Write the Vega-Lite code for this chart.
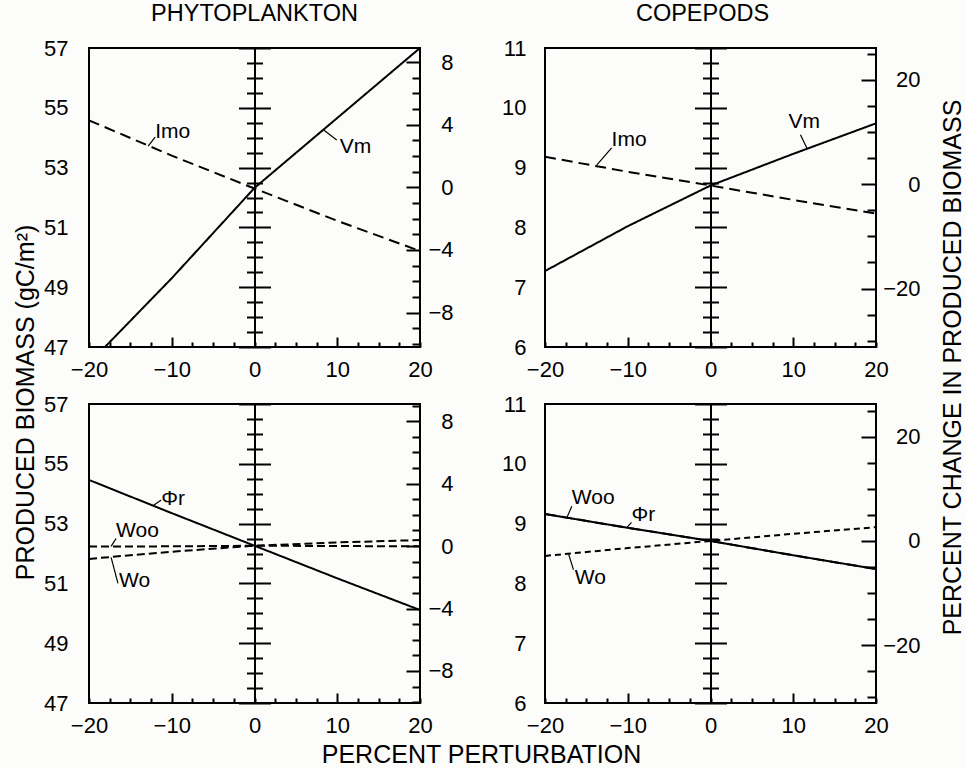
{
 "$schema": "https://vega.github.io/schema/vega-lite/v6.json",
 "background": "#fcfcfa",
 "padding": {"left": 12, "top": 0, "right": 0, "bottom": 0},
 "config": {
  "font": "Liberation Sans",
  "view": {"stroke": "black", "strokeWidth": 2},
  "axis": {"grid": false, "labelFontSize": 22, "labelColor": "black", "tickColor": "black", "domainColor": "black", "titleColor": "black", "labelFlush": false, "labelOverlap": false, "titleFontWeight": "normal", "titleFontSize": 25},
  "title": {"fontSize": 23.5, "fontWeight": "normal", "color": "black", "offset": 12, "frame": "group"}
 },
 "datasets": {
  "lines": [
   {"panel": "PT", "s": "Vm", "dash": "solid", "x": -20, "y": 46.45},
   {"panel": "PT", "s": "Vm", "dash": "solid", "x": -10, "y": 49.3},
   {"panel": "PT", "s": "Vm", "dash": "solid", "x": 0, "y": 52.32},
   {"panel": "PT", "s": "Vm", "dash": "solid", "x": 10, "y": 54.66},
   {"panel": "PT", "s": "Vm", "dash": "solid", "x": 20, "y": 57.0},
   {"panel": "PT", "s": "Imo", "dash": "long", "x": -20, "y": 54.58},
   {"panel": "PT", "s": "Imo", "dash": "long", "x": -10, "y": 53.4},
   {"panel": "PT", "s": "Imo", "dash": "long", "x": 0, "y": 52.3},
   {"panel": "PT", "s": "Imo", "dash": "long", "x": 10, "y": 51.22},
   {"panel": "PT", "s": "Imo", "dash": "long", "x": 20, "y": 50.21},
   {"panel": "CT", "s": "Vm", "dash": "solid", "x": -20, "y": 7.27},
   {"panel": "CT", "s": "Vm", "dash": "solid", "x": -10, "y": 8.02},
   {"panel": "CT", "s": "Vm", "dash": "solid", "x": 0, "y": 8.7},
   {"panel": "CT", "s": "Vm", "dash": "solid", "x": 10, "y": 9.23},
   {"panel": "CT", "s": "Vm", "dash": "solid", "x": 20, "y": 9.74},
   {"panel": "CT", "s": "Imo", "dash": "long", "x": -20, "y": 9.18},
   {"panel": "CT", "s": "Imo", "dash": "long", "x": -10, "y": 8.93},
   {"panel": "CT", "s": "Imo", "dash": "long", "x": 0, "y": 8.7},
   {"panel": "CT", "s": "Imo", "dash": "long", "x": 10, "y": 8.46},
   {"panel": "CT", "s": "Imo", "dash": "long", "x": 20, "y": 8.23},
   {"panel": "PB", "s": "Phi", "dash": "solid", "x": -20, "y": 54.46},
   {"panel": "PB", "s": "Phi", "dash": "solid", "x": -10, "y": 53.35},
   {"panel": "PB", "s": "Phi", "dash": "solid", "x": 0, "y": 52.26},
   {"panel": "PB", "s": "Phi", "dash": "solid", "x": 10, "y": 51.17},
   {"panel": "PB", "s": "Phi", "dash": "solid", "x": 20, "y": 50.11},
   {"panel": "PB", "s": "Woo", "dash": "med", "x": -20, "y": 52.23},
   {"panel": "PB", "s": "Woo", "dash": "med", "x": -10, "y": 52.24},
   {"panel": "PB", "s": "Woo", "dash": "med", "x": 0, "y": 52.26},
   {"panel": "PB", "s": "Woo", "dash": "med", "x": 10, "y": 52.25},
   {"panel": "PB", "s": "Woo", "dash": "med", "x": 20, "y": 52.24},
   {"panel": "PB", "s": "Wo", "dash": "med", "x": -20, "y": 51.82},
   {"panel": "PB", "s": "Wo", "dash": "med", "x": -10, "y": 52.06},
   {"panel": "PB", "s": "Wo", "dash": "med", "x": 0, "y": 52.26},
   {"panel": "PB", "s": "Wo", "dash": "med", "x": 10, "y": 52.37},
   {"panel": "PB", "s": "Wo", "dash": "med", "x": 20, "y": 52.45},
   {"panel": "CB", "s": "Phi", "dash": "solid", "x": -20, "y": 9.16},
   {"panel": "CB", "s": "Phi", "dash": "solid", "x": -10, "y": 8.93},
   {"panel": "CB", "s": "Phi", "dash": "solid", "x": 0, "y": 8.71},
   {"panel": "CB", "s": "Phi", "dash": "solid", "x": 10, "y": 8.47},
   {"panel": "CB", "s": "Phi", "dash": "solid", "x": 20, "y": 8.24},
   {"panel": "CB", "s": "Woo", "dash": "long", "x": -20, "y": 9.16},
   {"panel": "CB", "s": "Woo", "dash": "long", "x": -10, "y": 8.93},
   {"panel": "CB", "s": "Woo", "dash": "long", "x": 0, "y": 8.71},
   {"panel": "CB", "s": "Woo", "dash": "long", "x": 10, "y": 8.47},
   {"panel": "CB", "s": "Woo", "dash": "long", "x": 20, "y": 8.24},
   {"panel": "CB", "s": "Wo", "dash": "short", "x": -20, "y": 8.46},
   {"panel": "CB", "s": "Wo", "dash": "short", "x": -10, "y": 8.59},
   {"panel": "CB", "s": "Wo", "dash": "short", "x": 0, "y": 8.71},
   {"panel": "CB", "s": "Wo", "dash": "short", "x": 10, "y": 8.83},
   {"panel": "CB", "s": "Wo", "dash": "short", "x": 20, "y": 8.94}
  ],
  "labels": [
   {"panel": "PT", "text": "Imo", "x": -12.0, "y": 54.0},
   {"panel": "PT", "text": "Vm", "x": 10.3, "y": 53.49},
   {"panel": "CT", "text": "Imo", "x": -11.95, "y": 9.36},
   {"panel": "CT", "text": "Vm", "x": 9.43, "y": 9.66},
   {"panel": "PB", "text": "Φr", "x": -11.27, "y": 53.62},
   {"panel": "PB", "text": "Woo", "x": -16.73, "y": 52.55},
   {"panel": "PB", "text": "Wo", "x": -16.36, "y": 50.88},
   {"panel": "CB", "text": "Woo", "x": -16.76, "y": 9.33},
   {"panel": "CB", "text": "Φr", "x": -9.55, "y": 9.04},
   {"panel": "CB", "text": "Wo", "x": -16.4, "y": 7.99}
  ],
  "leaders": [
   {"panel": "PT", "x": -12.0, "y": 54.02, "x2": -12.85, "y2": 53.72},
   {"panel": "PT", "x": 9.94, "y": 53.92, "x2": 8.36, "y2": 54.26},
   {"panel": "CT", "x": -11.95, "y": 9.33, "x2": -13.75, "y2": 9.04},
   {"panel": "CT", "x": 10.87, "y": 9.55, "x2": 11.67, "y2": 9.32},
   {"panel": "PB", "x": -11.27, "y": 53.79, "x2": -12.28, "y2": 53.6},
   {"panel": "PB", "x": -16.73, "y": 52.5, "x2": -17.33, "y2": 52.24},
   {"panel": "PB", "x": -16.5, "y": 51.0, "x2": -17.33, "y2": 51.87},
   {"panel": "CB", "x": -16.76, "y": 9.29, "x2": -17.36, "y2": 9.1},
   {"panel": "CB", "x": -9.55, "y": 9.02, "x2": -10.15, "y2": 8.93},
   {"panel": "CB", "x": -16.56, "y": 8.23, "x2": -17.15, "y2": 8.49}
  ],
  "pct": [
   {"x": 0, "p": 0}
  ]
 },
 "columns": 2,
 "bounds": "flush",
 "spacing": {"row": 57, "column": 125},
 "resolve": {"scale": {"x": "independent", "y": "independent"}},
 "concat": [
  {
   "width": 331, "height": 299,
   "title": {"text": "PHYTOPLANKTON"},
   "layer": [
    {
     "data": {"name": "lines"}, "transform": [{"filter": "datum.panel === 'PT'"}],
     "mark": {"type": "line", "clip": true, "strokeWidth": 2, "color": "black"},
     "encoding": {
      "x": {"field": "x", "type": "quantitative", "scale": {"domain": [-20, 20], "nice": false}, "axis": {"orient": "bottom", "values": [-20, -10, 0, 10, 20], "ticks": false, "domain": false, "labelPadding": 12, "title": null}},
      "y": {"field": "y", "type": "quantitative", "scale": {"domain": [47, 57], "nice": false, "zero": false}, "axis": {"orient": "left", "values": [47, 49, 51, 53, 55, 57], "ticks": false, "domain": false, "labelPadding": 21, "title": "PRODUCED BIOMASS (gC/m²)", "titleX": -64, "titleY": 354, "titleAngle": -90, "titleAlign": "center", "titleBaseline": "middle"}},
      "detail": {"field": "s"},
      "strokeDash": {"field": "dash", "type": "nominal", "scale": {"domain": ["solid", "long", "med", "short"], "range": [[1, 0], [11, 6], [8, 4], [6, 4]]}, "legend": null}
     }
    },
    {
     "data": {"name": "leaders"}, "transform": [{"filter": "datum.panel === 'PT'"}],
     "mark": {"type": "rule", "strokeWidth": 1.2, "color": "black"},
     "encoding": {
      "x": {"field": "x", "type": "quantitative", "scale": {"domain": [-20, 20], "nice": false}, "axis": {"orient": "top", "offset": -299, "values": [-20, -17.5, -15, -12.5, -10, -7.5, -5, -2.5, 0, 2.5, 5, 7.5, 10, 12.5, 15, 17.5, 20], "labels": false, "domain": false, "tickWidth": 2, "tickSize": {"condition": {"test": "abs(datum.value) === 10", "value": 10}, "value": 5}, "title": null}},
      "y": {"field": "y", "type": "quantitative", "scale": {"domain": [47, 57], "nice": false, "zero": false}, "axis": {"orient": "left", "offset": -165.5, "values": [47, 47.5, 48, 48.5, 49, 49.5, 50, 50.5, 51, 51.5, 52, 52.5, 53, 53.5, 54, 54.5, 55, 55.5, 56, 56.5, 57], "labels": false, "domain": true, "domainWidth": 2, "tickWidth": 2, "tickSize": {"condition": {"test": "datum.value % 2 === 1", "value": 16}, "value": 8}, "title": null}},
      "x2": {"field": "x2"}, "y2": {"field": "y2"}
     }
    },
    {
     "data": {"name": "labels"}, "transform": [{"filter": "datum.panel === 'PT'"}],
     "mark": {"type": "text", "align": "left", "baseline": "alphabetic", "fontSize": 21, "color": "black"},
     "encoding": {
      "x": {"field": "x", "type": "quantitative", "scale": {"domain": [-20, 20], "nice": false}, "axis": null},
      "y": {"field": "y", "type": "quantitative", "scale": {"domain": [47, 57], "nice": false, "zero": false}, "axis": {"orient": "right", "offset": -165.5, "values": [47, 47.5, 48, 48.5, 49, 49.5, 50, 50.5, 51, 51.5, 52, 52.5, 53, 53.5, 54, 54.5, 55, 55.5, 56, 56.5, 57], "labels": false, "domain": false, "tickWidth": 2, "tickSize": {"condition": {"test": "datum.value % 2 === 1", "value": 16}, "value": 8}, "title": null}},
      "text": {"field": "text"}
     }
    },
    {
     "data": {"name": "pct"},
     "mark": {"type": "point", "opacity": 0, "clip": true},
     "encoding": {
      "x": {"field": "x", "type": "quantitative", "scale": {"domain": [-20, 20], "nice": false}, "axis": null},
      "y": {"field": "p", "type": "quantitative", "scale": {"domain": [-10.2, 8.9], "nice": false, "zero": false}, "axis": {"orient": "left", "offset": -331, "values": [-10, -9, -8, -7, -6, -5, -4, -3, -2, -1, 0, 1, 2, 3, 4, 5, 6, 7, 8], "labels": false, "domain": false, "tickWidth": 2, "tickSize": {"condition": {"test": "datum.value % 4 === 0", "value": 14}, "value": 8}, "title": null}}
     }
    },
    {
     "data": {"name": "pct"},
     "mark": {"type": "point", "opacity": 0, "clip": true},
     "encoding": {
      "x": {"field": "x", "type": "quantitative", "scale": {"domain": [-20, 20], "nice": false}, "axis": null},
      "y": {"field": "p", "type": "quantitative", "scale": {"domain": [-10.2, 8.9], "nice": false, "zero": false}, "axis": {"orient": "right", "values": [-8, -4, 0, 4, 8], "ticks": false, "domain": false, "labelAlign": "right", "labelPadding": 33, "title": null}}
     }
    }
   ],
   "resolve": {"scale": {"y": "independent"}, "axis": {"x": "independent", "y": "independent"}}
  },
  {
   "width": 331, "height": 299,
   "title": {"text": "COPEPODS", "dx": -8},
   "layer": [
    {
     "data": {"name": "lines"}, "transform": [{"filter": "datum.panel === 'CT'"}],
     "mark": {"type": "line", "clip": true, "strokeWidth": 2, "color": "black"},
     "encoding": {
      "x": {"field": "x", "type": "quantitative", "scale": {"domain": [-20, 20], "nice": false}, "axis": {"orient": "bottom", "values": [-20, -10, 0, 10, 20], "ticks": false, "domain": false, "labelPadding": 12, "title": null}},
      "y": {"field": "y", "type": "quantitative", "scale": {"domain": [6, 11], "nice": false, "zero": false}, "axis": {"orient": "left", "values": [6, 7, 8, 9, 10, 11], "ticks": false, "domain": false, "labelPadding": 19, "title": null}},
      "detail": {"field": "s"},
      "strokeDash": {"field": "dash", "type": "nominal", "scale": {"domain": ["solid", "long", "med", "short"], "range": [[1, 0], [11, 6], [8, 4], [6, 4]]}, "legend": null}
     }
    },
    {
     "data": {"name": "leaders"}, "transform": [{"filter": "datum.panel === 'CT'"}],
     "mark": {"type": "rule", "strokeWidth": 1.2, "color": "black"},
     "encoding": {
      "x": {"field": "x", "type": "quantitative", "scale": {"domain": [-20, 20], "nice": false}, "axis": {"orient": "top", "offset": -299, "values": [-20, -17.5, -15, -12.5, -10, -7.5, -5, -2.5, 0, 2.5, 5, 7.5, 10, 12.5, 15, 17.5, 20], "labels": false, "domain": false, "tickWidth": 2, "tickSize": {"condition": {"test": "abs(datum.value) === 10", "value": 10}, "value": 5}, "title": null}},
      "y": {"field": "y", "type": "quantitative", "scale": {"domain": [6, 11], "nice": false, "zero": false}, "axis": {"orient": "left", "offset": -165.5, "values": [6, 6.25, 6.5, 6.75, 7, 7.25, 7.5, 7.75, 8, 8.25, 8.5, 8.75, 9, 9.25, 9.5, 9.75, 10, 10.25, 10.5, 10.75, 11], "labels": false, "domain": true, "domainWidth": 2, "tickWidth": 2, "tickSize": {"condition": {"test": "datum.value % 1 === 0", "value": 16}, "value": 8}, "title": null}},
      "x2": {"field": "x2"}, "y2": {"field": "y2"}
     }
    },
    {
     "data": {"name": "labels"}, "transform": [{"filter": "datum.panel === 'CT'"}],
     "mark": {"type": "text", "align": "left", "baseline": "alphabetic", "fontSize": 21, "color": "black"},
     "encoding": {
      "x": {"field": "x", "type": "quantitative", "scale": {"domain": [-20, 20], "nice": false}, "axis": null},
      "y": {"field": "y", "type": "quantitative", "scale": {"domain": [6, 11], "nice": false, "zero": false}, "axis": {"orient": "right", "offset": -165.5, "values": [6, 6.25, 6.5, 6.75, 7, 7.25, 7.5, 7.75, 8, 8.25, 8.5, 8.75, 9, 9.25, 9.5, 9.75, 10, 10.25, 10.5, 10.75, 11], "labels": false, "domain": false, "tickWidth": 2, "tickSize": {"condition": {"test": "datum.value % 1 === 0", "value": 16}, "value": 8}, "title": null}},
      "text": {"field": "text"}
     }
    },
    {
     "data": {"name": "pct"},
     "mark": {"type": "point", "opacity": 0, "clip": true},
     "encoding": {
      "x": {"field": "x", "type": "quantitative", "scale": {"domain": [-20, 20], "nice": false}, "axis": null},
      "y": {"field": "p", "type": "quantitative", "scale": {"domain": [-31.2, 26.1], "nice": false, "zero": false}, "axis": {"orient": "left", "offset": -331, "values": [-30, -25, -20, -15, -10, -5, 0, 5, 10, 15, 20, 25], "labels": false, "domain": false, "tickWidth": 2, "tickSize": {"condition": {"test": "datum.value % 20 === 0", "value": 15}, "value": 9}, "title": null}}
     }
    },
    {
     "data": {"name": "pct"},
     "mark": {"type": "point", "opacity": 0, "clip": true},
     "encoding": {
      "x": {"field": "x", "type": "quantitative", "scale": {"domain": [-20, 20], "nice": false}, "axis": null},
      "y": {"field": "p", "type": "quantitative", "scale": {"domain": [-31.2, 26.1], "nice": false, "zero": false}, "axis": {"orient": "right", "values": [-20, 0, 20], "ticks": false, "domain": false, "labelAlign": "right", "labelPadding": 44, "title": "PERCENT CHANGE IN PRODUCED BIOMASS", "titleX": 76, "titleY": 319, "titleAngle": -90, "titleAlign": "center", "titleBaseline": "middle"}}
     }
    }
   ],
   "resolve": {"scale": {"y": "independent"}, "axis": {"x": "independent", "y": "independent"}}
  },
  {
   "width": 331, "height": 299,
   "layer": [
    {
     "data": {"name": "lines"}, "transform": [{"filter": "datum.panel === 'PB'"}],
     "mark": {"type": "line", "clip": true, "strokeWidth": 2, "color": "black"},
     "encoding": {
      "x": {"field": "x", "type": "quantitative", "scale": {"domain": [-20, 20], "nice": false}, "axis": {"orient": "bottom", "values": [-20, -10, 0, 10, 20], "ticks": false, "domain": false, "labelPadding": 12, "title": "PERCENT PERTURBATION", "titleX": 392, "titleY": 51, "titleAlign": "center", "titleBaseline": "middle"}},
      "y": {"field": "y", "type": "quantitative", "scale": {"domain": [47, 57], "nice": false, "zero": false}, "axis": {"orient": "left", "values": [47, 49, 51, 53, 55, 57], "ticks": false, "domain": false, "labelPadding": 21, "title": null}},
      "detail": {"field": "s"},
      "strokeDash": {"field": "dash", "type": "nominal", "scale": {"domain": ["solid", "long", "med", "short"], "range": [[1, 0], [11, 6], [8, 4], [6, 4]]}, "legend": null}
     }
    },
    {
     "data": {"name": "leaders"}, "transform": [{"filter": "datum.panel === 'PB'"}],
     "mark": {"type": "rule", "strokeWidth": 1.2, "color": "black"},
     "encoding": {
      "x": {"field": "x", "type": "quantitative", "scale": {"domain": [-20, 20], "nice": false}, "axis": {"orient": "top", "offset": -299, "values": [-20, -17.5, -15, -12.5, -10, -7.5, -5, -2.5, 0, 2.5, 5, 7.5, 10, 12.5, 15, 17.5, 20], "labels": false, "domain": false, "tickWidth": 2, "tickSize": {"condition": {"test": "abs(datum.value) === 10", "value": 10}, "value": 5}, "title": null}},
      "y": {"field": "y", "type": "quantitative", "scale": {"domain": [47, 57], "nice": false, "zero": false}, "axis": {"orient": "left", "offset": -165.5, "values": [47, 47.5, 48, 48.5, 49, 49.5, 50, 50.5, 51, 51.5, 52, 52.5, 53, 53.5, 54, 54.5, 55, 55.5, 56, 56.5, 57], "labels": false, "domain": true, "domainWidth": 2, "tickWidth": 2, "tickSize": {"condition": {"test": "datum.value % 2 === 1", "value": 16}, "value": 8}, "title": null}},
      "x2": {"field": "x2"}, "y2": {"field": "y2"}
     }
    },
    {
     "data": {"name": "labels"}, "transform": [{"filter": "datum.panel === 'PB'"}],
     "mark": {"type": "text", "align": "left", "baseline": "alphabetic", "fontSize": 21, "color": "black"},
     "encoding": {
      "x": {"field": "x", "type": "quantitative", "scale": {"domain": [-20, 20], "nice": false}, "axis": null},
      "y": {"field": "y", "type": "quantitative", "scale": {"domain": [47, 57], "nice": false, "zero": false}, "axis": {"orient": "right", "offset": -165.5, "values": [47, 47.5, 48, 48.5, 49, 49.5, 50, 50.5, 51, 51.5, 52, 52.5, 53, 53.5, 54, 54.5, 55, 55.5, 56, 56.5, 57], "labels": false, "domain": false, "tickWidth": 2, "tickSize": {"condition": {"test": "datum.value % 2 === 1", "value": 16}, "value": 8}, "title": null}},
      "text": {"field": "text"}
     }
    },
    {
     "data": {"name": "pct"},
     "mark": {"type": "point", "opacity": 0, "clip": true},
     "encoding": {
      "x": {"field": "x", "type": "quantitative", "scale": {"domain": [-20, 20], "nice": false}, "axis": null},
      "y": {"field": "p", "type": "quantitative", "scale": {"domain": [-10.05, 9.1], "nice": false, "zero": false}, "axis": {"orient": "left", "offset": -331, "values": [-10, -9, -8, -7, -6, -5, -4, -3, -2, -1, 0, 1, 2, 3, 4, 5, 6, 7, 8, 9], "labels": false, "domain": false, "tickWidth": 2, "tickSize": {"condition": {"test": "datum.value % 4 === 0", "value": 14}, "value": 8}, "title": null}}
     }
    },
    {
     "data": {"name": "pct"},
     "mark": {"type": "point", "opacity": 0, "clip": true},
     "encoding": {
      "x": {"field": "x", "type": "quantitative", "scale": {"domain": [-20, 20], "nice": false}, "axis": null},
      "y": {"field": "p", "type": "quantitative", "scale": {"domain": [-10.05, 9.1], "nice": false, "zero": false}, "axis": {"orient": "right", "values": [-8, -4, 0, 4, 8], "ticks": false, "domain": false, "labelAlign": "right", "labelPadding": 33, "title": null}}
     }
    }
   ],
   "resolve": {"scale": {"y": "independent"}, "axis": {"x": "independent", "y": "independent"}}
  },
  {
   "width": 331, "height": 299,
   "layer": [
    {
     "data": {"name": "lines"}, "transform": [{"filter": "datum.panel === 'CB'"}],
     "mark": {"type": "line", "clip": true, "strokeWidth": 2, "color": "black"},
     "encoding": {
      "x": {"field": "x", "type": "quantitative", "scale": {"domain": [-20, 20], "nice": false}, "axis": {"orient": "bottom", "values": [-20, -10, 0, 10, 20], "ticks": false, "domain": false, "labelPadding": 12, "title": null}},
      "y": {"field": "y", "type": "quantitative", "scale": {"domain": [6, 11], "nice": false, "zero": false}, "axis": {"orient": "left", "values": [6, 7, 8, 9, 10, 11], "ticks": false, "domain": false, "labelPadding": 19, "title": null}},
      "detail": {"field": "s"},
      "strokeDash": {"field": "dash", "type": "nominal", "scale": {"domain": ["solid", "long", "med", "short"], "range": [[1, 0], [11, 6], [8, 4], [6, 4]]}, "legend": null}
     }
    },
    {
     "data": {"name": "leaders"}, "transform": [{"filter": "datum.panel === 'CB'"}],
     "mark": {"type": "rule", "strokeWidth": 1.2, "color": "black"},
     "encoding": {
      "x": {"field": "x", "type": "quantitative", "scale": {"domain": [-20, 20], "nice": false}, "axis": {"orient": "top", "offset": -299, "values": [-20, -17.5, -15, -12.5, -10, -7.5, -5, -2.5, 0, 2.5, 5, 7.5, 10, 12.5, 15, 17.5, 20], "labels": false, "domain": false, "tickWidth": 2, "tickSize": {"condition": {"test": "abs(datum.value) === 10", "value": 10}, "value": 5}, "title": null}},
      "y": {"field": "y", "type": "quantitative", "scale": {"domain": [6, 11], "nice": false, "zero": false}, "axis": {"orient": "left", "offset": -165.5, "values": [6, 6.25, 6.5, 6.75, 7, 7.25, 7.5, 7.75, 8, 8.25, 8.5, 8.75, 9, 9.25, 9.5, 9.75, 10, 10.25, 10.5, 10.75, 11], "labels": false, "domain": true, "domainWidth": 2, "tickWidth": 2, "tickSize": {"condition": {"test": "datum.value % 1 === 0", "value": 16}, "value": 8}, "title": null}},
      "x2": {"field": "x2"}, "y2": {"field": "y2"}
     }
    },
    {
     "data": {"name": "labels"}, "transform": [{"filter": "datum.panel === 'CB'"}],
     "mark": {"type": "text", "align": "left", "baseline": "alphabetic", "fontSize": 21, "color": "black"},
     "encoding": {
      "x": {"field": "x", "type": "quantitative", "scale": {"domain": [-20, 20], "nice": false}, "axis": null},
      "y": {"field": "y", "type": "quantitative", "scale": {"domain": [6, 11], "nice": false, "zero": false}, "axis": {"orient": "right", "offset": -165.5, "values": [6, 6.25, 6.5, 6.75, 7, 7.25, 7.5, 7.75, 8, 8.25, 8.5, 8.75, 9, 9.25, 9.5, 9.75, 10, 10.25, 10.5, 10.75, 11], "labels": false, "domain": false, "tickWidth": 2, "tickSize": {"condition": {"test": "datum.value % 1 === 0", "value": 16}, "value": 8}, "title": null}},
      "text": {"field": "text"}
     }
    },
    {
     "data": {"name": "pct"},
     "mark": {"type": "point", "opacity": 0, "clip": true},
     "encoding": {
      "x": {"field": "x", "type": "quantitative", "scale": {"domain": [-20, 20], "nice": false}, "axis": null},
      "y": {"field": "p", "type": "quantitative", "scale": {"domain": [-31.1, 26.3], "nice": false, "zero": false}, "axis": {"orient": "left", "offset": -331, "values": [-30, -25, -20, -15, -10, -5, 0, 5, 10, 15, 20, 25], "labels": false, "domain": false, "tickWidth": 2, "tickSize": {"condition": {"test": "datum.value % 20 === 0", "value": 15}, "value": 9}, "title": null}}
     }
    },
    {
     "data": {"name": "pct"},
     "mark": {"type": "point", "opacity": 0, "clip": true},
     "encoding": {
      "x": {"field": "x", "type": "quantitative", "scale": {"domain": [-20, 20], "nice": false}, "axis": null},
      "y": {"field": "p", "type": "quantitative", "scale": {"domain": [-31.1, 26.3], "nice": false, "zero": false}, "axis": {"orient": "right", "values": [-20, 0, 20], "ticks": false, "domain": false, "labelAlign": "right", "labelPadding": 44, "title": null}}
     }
    }
   ],
   "resolve": {"scale": {"y": "independent"}, "axis": {"x": "independent", "y": "independent"}}
  }
 ]
}
